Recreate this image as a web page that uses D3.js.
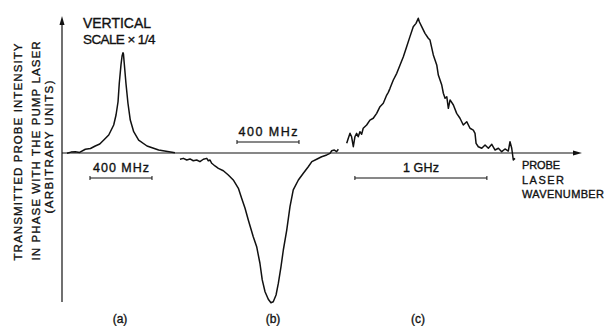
<!DOCTYPE html>
<html><head><meta charset="utf-8">
<script src="https://cdn.jsdelivr.net/npm/d3@7"></script>
<style>body{margin:0;background:#fff}svg{display:block}text{font-family:"Liberation Sans",Arial,sans-serif;fill:#111;stroke:#111;stroke-width:0.35px}</style>
</head><body>
<script>
// Detuning (MHz from line centre) and signal (arbitrary units, baseline 0)
const traceA_mhz = [-361,-335,-308,-280,-243,-210,-179,-150,-124,-92,-60,-45,-32,-24,-13,-6,0,3,8,19,32,47,69,101,155,230,316,335];
const traceA_val = [-0.002,0.006,0.009,0.004,0.025,0.030,0.047,0.060,0.087,0.121,0.188,0.255,0.344,0.468,0.591,0.651,0.673,0.664,0.602,0.468,0.334,0.221,0.143,0.087,0.047,0.020,0.005,0.002];

const traceB_mhz = [-581,-559,-537,-516,-495,-473,-452,-430,-408,-398,-387,-376,-355,-333,-301,-269,-237,-204,-183,-161,-140,-108,-86,-65,-50,-32,-11,6,21,39,54,71,86,108,129,150,183,215,247,270,301,333,366,387,398,415,430,441];
const traceB_val = [-0.042,-0.036,-0.047,-0.040,-0.052,-0.047,-0.058,-0.042,-0.036,-0.052,-0.047,-0.069,-0.087,-0.103,-0.119,-0.148,-0.181,-0.237,-0.304,-0.371,-0.450,-0.562,-0.629,-0.740,-0.852,-0.931,-0.982,-1.005,-0.998,-0.953,-0.874,-0.763,-0.651,-0.517,-0.360,-0.248,-0.181,-0.136,-0.092,-0.058,-0.042,-0.025,-0.013,-0.002,0.015,0.020,0.009,0.025];

const traceC_mhz = [-540,-528,-515,-503,-490,-478,-465,-453,-440,-427,-415,-389,-364,-339,-313,-288,-263,-237,-225,-212,-187,-161,-136,-111,-86,-61,-36,-15,2,10,28,53,78,91,116,142,154,180,192,205,218,230,243,268,293,318,343,369,394,419,432,440,457,483,508,533,559,584,609,634,659,684,697,710,722,735];
const traceC_val = [0.065,0.099,0.132,0.109,0.042,0.109,0.132,0.109,0.143,0.126,0.166,0.188,0.221,0.233,0.266,0.311,0.334,0.389,0.407,0.434,0.490,0.535,0.591,0.646,0.713,0.781,0.848,0.870,0.904,0.881,0.848,0.803,0.770,0.758,0.658,0.591,0.523,0.456,0.401,0.367,0.378,0.300,0.356,0.322,0.266,0.233,0.188,0.210,0.166,0.154,0.132,0.065,0.042,0.032,0.054,0.032,0.058,0.020,0.032,0.009,0.027,0.013,0.076,0.032,-0.047,-0.036];

const panelLabels = ["(a)","(b)","(c)"];
const scaleBarA = {from:-213, to:187, label:"400 MHz"};
const scaleBarB = {from:-213, to:187, label:"400 MHz"};
const scaleBarC = {from:-478, to:522, label:"1 GHz"};
const yLabelLines = ["TRANSMITTED PROBE INTENSITY","IN PHASE WITH THE PUMP LASER","(ARBITRARY UNITS)"];
const xLabelLines = ["PROBE","LASER","WAVENUMBER"];
const noteLines = ["VERTICAL","SCALE × 1/4"];

const W=606,H=326;
const svg=d3.select("body").append("svg").attr("width",W).attr("height",H);
svg.append("rect").attr("width",W).attr("height",H).attr("fill","#fff");

const y=d3.scaleLinear().domain([-1,1]).range([302,4]);
const xA=d3.scaleLinear().domain([-200,200]).range([92,154]);
const xB=d3.scaleLinear().domain([-200,200]).range([239,301]);
const xC=d3.scaleLinear().domain([-500,500]).range([352,484]);

const ink="#111";
const x0=62, y0=y(0);
svg.append("line").attr("x1",x0).attr("x2",x0).attr("y1",302).attr("y2",22).attr("stroke",ink).attr("stroke-width",1.2);
svg.append("path").attr("d",`M${x0},16 L${x0-2.5},25 L${x0+2.5},25 Z`).attr("fill",ink);
svg.append("line").attr("x1",x0).attr("x2",576).attr("y1",y0).attr("y2",y0).attr("stroke",ink).attr("stroke-width",1.2);
svg.append("path").attr("d",`M582,${y0} L573,${y0-2.5} L573,${y0+2.5} Z`).attr("fill",ink);

function trace(xs,mhz,val){
  const pts=mhz.map((m,i)=>[xs(m),y(val[i])]);
  svg.append("path").attr("d",d3.line()(pts)).attr("fill","none").attr("stroke",ink).attr("stroke-width",1.5).attr("stroke-linejoin","round");
}
trace(xA,traceA_mhz,traceA_val);
trace(xB,traceB_mhz,traceB_val);
trace(xC,traceC_mhz,traceC_val);

function txt(x,yy,t,size,len,anchor){
  const e=svg.append("text").attr("x",x).attr("y",yy).attr("font-size",size).attr("text-anchor",anchor||"start").text(t);
  if(len) e.attr("textLength",len).attr("lengthAdjust","spacing");
  return e;
}
function bar(xs,b,yb,yt,tlen){
  const x1=xs(b.from),x2=xs(b.to);
  svg.append("line").attr("x1",x1).attr("x2",x2).attr("y1",yb).attr("y2",yb).attr("stroke",ink).attr("stroke-width",1);
  [x1,x2].forEach(xx=>svg.append("line").attr("x1",xx).attr("x2",xx).attr("y1",yb-2).attr("y2",yb+2).attr("stroke",ink).attr("stroke-width",1));
  txt((x1+x2)/2,yt,b.label,12.5,tlen,"middle");
}
bar(xA,scaleBarA,178,171.5,56);
bar(xB,scaleBarB,142,135.5,59);
bar(xC,scaleBarC,178,172,36);

const yl=[[22,152,217],[40,151,219],[53,147,133]];
yLabelLines.forEach((t,i)=>{
  svg.append("text").attr("transform",`translate(${yl[i][0]},${yl[i][1]}) rotate(-90)`).attr("text-anchor","middle")
   .attr("font-size",11.5).attr("textLength",yl[i][2]).attr("lengthAdjust","spacing").text(t);
});
xLabelLines.forEach((t,i)=>{
  txt(522,169+i*14.6,t,11,[38,42,82][i]);
});
txt(83,28,noteLines[0],14,68);
txt(83,43.5,noteLines[1],13.5,null).attr("letter-spacing","-0.6px");
[xA(0)-3,xB(0)+3,xC(0)].forEach((cx,i)=>{
  txt(cx,323,panelLabels[i],12,null,"middle");
});
</script>
</body></html>
